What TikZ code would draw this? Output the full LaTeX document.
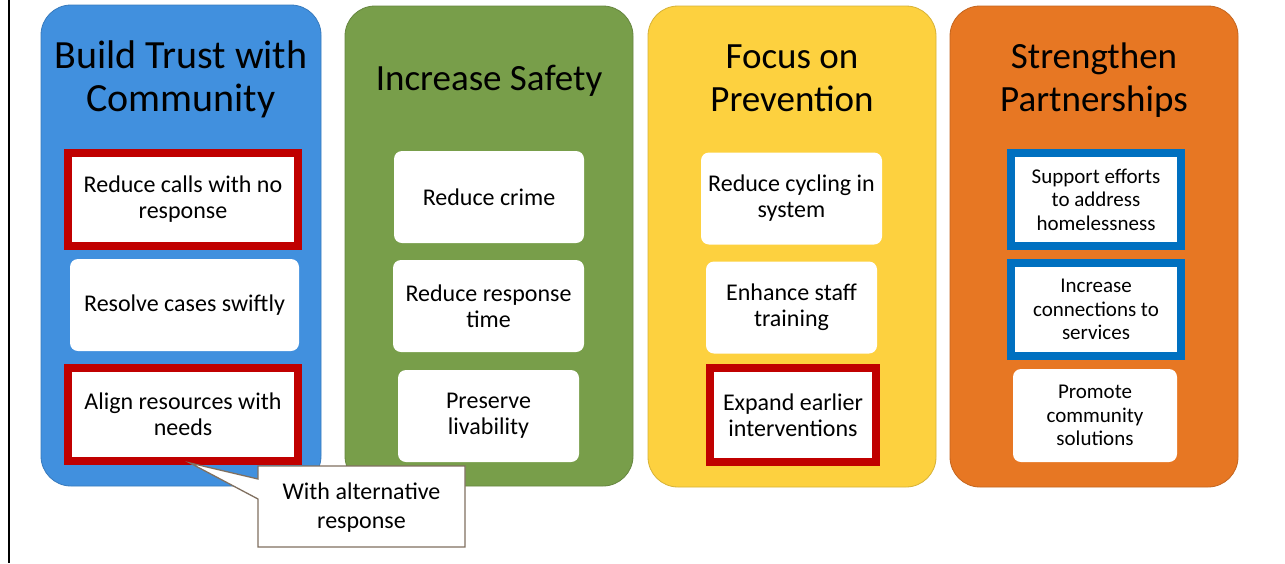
\documentclass[tikz,border=0pt]{standalone}
\usepackage{fontspec}
\setmainfont{Carlito}
\definecolor{pblue}{RGB}{65,144,222}
\definecolor{pgreen}{RGB}{120,158,74}
\definecolor{pyellow}{RGB}{253,209,63}
\definecolor{porange}{RGB}{231,119,35}
\definecolor{hred}{RGB}{192,0,0}
\definecolor{hblue}{RGB}{0,112,192}
\definecolor{callout}{RGB}{128,112,96}
\tikzset{
  panel/.style={rounded corners=30pt, line width=0.8pt},
  ttl/.style={font=\fontsize{37}{43}\selectfont, align=center, text=black},
  wbox/.style={fill=white, rounded corners=8pt, align=center, inner sep=0pt,
     font=\fontsize{24}{26}\selectfont},
  rbox/.style={fill=white, draw=hred, line width=8pt, align=center, inner sep=0pt,
     font=\fontsize{24}{26}\selectfont},
  bbox/.style={fill=white, draw=hblue, line width=8pt, align=center, inner sep=0pt,
     font=\fontsize{21}{23.5}\selectfont},
  sbox/.style={fill=white, rounded corners=8pt, align=center, inner sep=0pt,
     font=\fontsize{21}{23.5}\selectfont},
}
\begin{document}
\begin{tikzpicture}[x=1pt,y=-1pt]
\useasboundingbox (0,0) rectangle (1285,563);
\fill[white] (0,0) rectangle (1285,563);
\draw[line width=2pt] (9,0) -- (9,563);

% panels
\filldraw[panel, fill=pblue, draw=pblue!85!black] (41,5) rectangle (321,486);
\filldraw[panel, fill=pgreen, draw=pgreen!85!black] (345,6) rectangle (633,486);
\filldraw[panel, fill=pyellow, draw=pyellow!85!black] (648,6) rectangle (936,487);
\filldraw[panel, fill=porange, draw=porange!85!black] (950,6) rectangle (1238,487);

% titles
\node[ttl, font=\fontsize{40}{43}\selectfont] (t1) at (181,79.5) {Build Trust with\\Community};
\node[ttl] (t2) at (489,81) {Increase Safety};
\node[ttl] (t3) at (792,78.5) {Focus on\\Prevention};
\node[ttl] (t4) at (1094,80) {Strengthen\\Partnerships};

% panel 1
\node[rbox, minimum width=230pt, minimum height=93pt] (a1) at (183,199) {Reduce calls with no\\response};
\node[wbox, minimum width=229pt, minimum height=92pt] (a2) at (184.5,305) {Resolve cases swiftly};
\node[rbox, minimum width=230pt, minimum height=93pt] (a3) at (183,414.5) {Align resources with\\needs};

% panel 2
\node[wbox, minimum width=190pt, minimum height=92pt] (b1) at (489,197) {Reduce crime};
\node[wbox, minimum width=191pt, minimum height=92pt] (b2) at (488.5,306) {Reduce response\\time};
\node[wbox, minimum width=181pt, minimum height=92pt] (b3) at (488.5,416) {Preserve\\livability};

% panel 3
\node[wbox, minimum width=181pt, minimum height=92pt] (c1) at (791.5,198.5) {Reduce cycling in\\system};
\node[wbox, minimum width=171pt, minimum height=92pt] (c2) at (791.5,307.5) {Enhance staff\\training};
\node[rbox, minimum width=166pt, minimum height=94pt] (c3) at (793,415) {Expand earlier\\interventions};

% panel 4
\node[bbox, minimum width=170pt, minimum height=93pt] (d1) at (1096,199.5) {Support efforts\\to address\\homelessness};
\node[bbox, minimum width=170pt, minimum height=93pt] (d2) at (1096,309.5) {Increase\\connections to\\services};
\node[sbox, minimum width=164pt, minimum height=93pt] (d3) at (1095,415.5) {Promote\\community\\solutions};

% callout
\coordinate (tip) at (190,463);
\filldraw[fill=white, draw=callout, line width=1.3pt, line join=miter]
  (258,466) -- (465,466) -- (465,547) -- (258,547) -- (258,499) -- (tip) -- (258,479) -- cycle;
\node[font=\fontsize{24}{29}\selectfont, align=center] (co) at (361.5,508) {With alternative\\response};
\end{tikzpicture}
\end{document}
